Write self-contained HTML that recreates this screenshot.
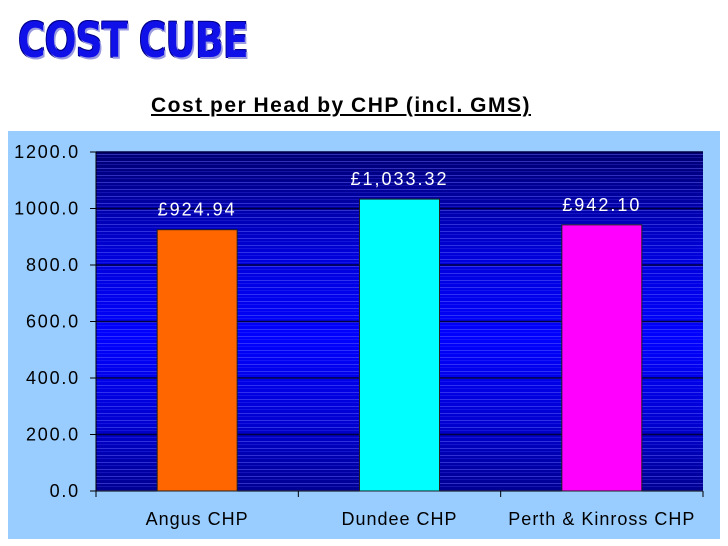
<!DOCTYPE html>
<html><head><meta charset="utf-8"><style>
body{margin:0;width:728px;height:546px;background:#fff;position:relative;overflow:hidden;font-family:"Liberation Sans",sans-serif}
#logo{position:absolute;left:18px;top:13px;font:900 48px "DejaVu Sans","Liberation Sans",sans-serif;color:#1010e8;letter-spacing:-1px;transform:scaleX(0.78);transform-origin:left top;text-shadow:2px 2px 0 #9a9ae0,-1px -1px 0 #00008a,1px -1px 0 #00008a,-1px 1px 0 #00008a,1px 1px 0 #00008a}
#title{position:absolute;left:151px;top:94px;font-weight:bold;font-size:21px;letter-spacing:1.5px;word-spacing:-1px;text-decoration:underline;color:#000}
</style></head><body>
<div id="logo">COST CUBE</div>
<div id="title">Cost per Head by CHP (incl. GMS)</div>
<svg id="chart" width="728" height="546" style="position:absolute;left:0;top:0">
<defs>
<linearGradient id="bg" x1="0" y1="0" x2="0" y2="1">
<stop offset="0" stop-color="#000070"/><stop offset="0.3" stop-color="#0000d8"/><stop offset="0.55" stop-color="#0000ff"/><stop offset="0.8" stop-color="#0000d0"/><stop offset="1" stop-color="#000090"/>
</linearGradient>
<pattern id="stripes" width="10" height="7" patternUnits="userSpaceOnUse"><rect y="0" width="10" height="1" fill="#6a6aff" opacity="0.45"/><rect y="3" width="10" height="1" fill="#5050ff" opacity="0.25"/></pattern>
</defs>
<rect x="8" y="131" width="712" height="408" fill="#99ccff"/>
<g id="plot"></g>
</svg>
<script>
const categories=["Angus CHP","Dundee CHP","Perth & Kinross CHP"];
const values=[924.94,1033.32,942.10];
const labels=["£924.94","£1,033.32","£942.10"];
const colors=["#ff6600","#00ffff","#ff00ff"];
const ticks=[0,200,400,600,800,1000,1200];
const X0=96,X1=703,Y0=491,Y1=152,YMAX=1200;
const y=v=>Y0-(v/YMAX)*(Y0-Y1);
const cw=(X1-X0)/categories.length;
const xc=i=>X0+cw*(i+0.5);
const NS="http://www.w3.org/2000/svg";
const g=document.getElementById('plot');
function mk(t,a){const e=document.createElementNS(NS,t);for(const k in a)e.setAttribute(k,a[k]);g.appendChild(e);return e;}
let e=mk('rect',{x:X0,y:Y1,width:X1-X0,height:Y0-Y1,fill:'url(#bg)'});


mk('rect',{x:X0,y:Y1,width:X1-X0,height:Y0-Y1,fill:'url(#stripes)'});
ticks.forEach(t=>{
 if(t>0){const l=mk('line',{x1:X0,x2:X1,y1:y(t),y2:y(t),stroke:'#000040','stroke-width':1.5});
 
 }
 mk('line',{x1:X0-6,x2:X0,y1:y(t),y2:y(t),stroke:'#000'});
 const tx=mk('text',{x:X0-16,y:y(t)+6,'text-anchor':'end','font-size':18,'letter-spacing':1.8,fill:'#000'});
 tx.textContent=t.toFixed(1);
 
 
});
mk('line',{x1:X0,x2:X0,y1:Y1,y2:Y0,stroke:'#000'});
mk('line',{x1:X0,x2:X1,y1:Y0,y2:Y0,stroke:'#000'});
for(let i=0;i<=categories.length;i++)mk('line',{x1:X0+cw*i,x2:X0+cw*i,y1:Y0,y2:Y0+6,stroke:'#000'});
categories.forEach((c,i)=>{
 const bw=80;
 const b=mk('rect',{x:xc(i)-bw/2,y:y(values[i]),width:bw,height:Y0-y(values[i]),fill:colors[i],stroke:'#202020','stroke-width':1});
 
 
 const v=mk('text',{x:xc(i),y:y(values[i])-14,'text-anchor':'middle','font-size':18,fill:'#fff','letter-spacing':'2'});
 v.textContent=labels[i];
 
 
 const cl=mk('text',{x:xc(i),y:Y0+34,'text-anchor':'middle','font-size':18,'letter-spacing':1,fill:'#000'});
 cl.textContent=c;
 
 
});
</script>
</body></html>
